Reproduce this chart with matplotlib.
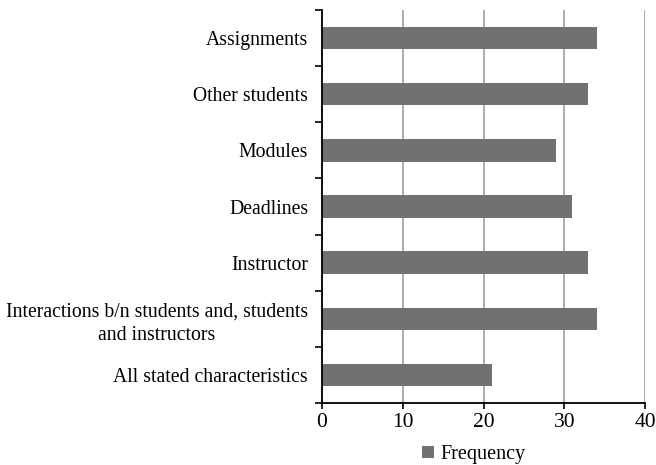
import matplotlib
matplotlib.use("Agg")
import matplotlib.pyplot as plt
import numpy as np

categories = ['Assignments', 'Other students', 'Modules', 'Deadlines', 'Instructor',
              'Interactions b/n students and, students\nand instructors',
              'All stated characteristics']
frequency = [34, 33, 29, 31, 33, 34, 21]
x_ticks = [0, 10, 20, 30, 40]

plt.rcParams['font.family'] = ['Liberation Serif', 'DejaVu Serif']

fig = plt.figure(figsize=(6.56, 4.65), dpi=100)
ax = fig.add_axes([322 / 656, 1 - 403 / 465, (645 - 322) / 656, (403 - 10) / 465])

y = np.arange(len(categories))
ax.barh(y, frequency, height=0.4, color='#717171', label='Frequency', zorder=3)
ax.set_ylim(len(categories) - 0.5, -0.5)
ax.set_xlim(0, 40)
ax.set_xticks(x_ticks)
ax.set_yticks(y)
ax.set_yticklabels(categories, ha='right', multialignment='center', linespacing=1.35)
ax.set_yticks(np.arange(-0.5, len(categories)), minor=True)
ax.tick_params(axis='y', which='major', length=0, pad=10, labelsize=14.2)
ax.tick_params(axis='y', which='minor', length=5, width=1.2, direction='out')
ax.tick_params(axis='x', length=4, width=1.2, direction='out', labelsize=15.5, pad=3)

ax.grid(axis='x', color='#a6a6a6', linewidth=1.3, zorder=0)
for s in ['top', 'right']:
    ax.spines[s].set_visible(False)
for s in ['left', 'bottom']:
    ax.spines[s].set_linewidth(1.3)
    ax.spines[s].set_zorder(4)

ax.legend(loc='upper center', bbox_to_anchor=(0.47, -0.071), frameon=False, fontsize=14.5,
          handlelength=0.6, handleheight=0.6, handletextpad=0.3, borderpad=0.2)

fig.savefig('out.png', dpi=100)
